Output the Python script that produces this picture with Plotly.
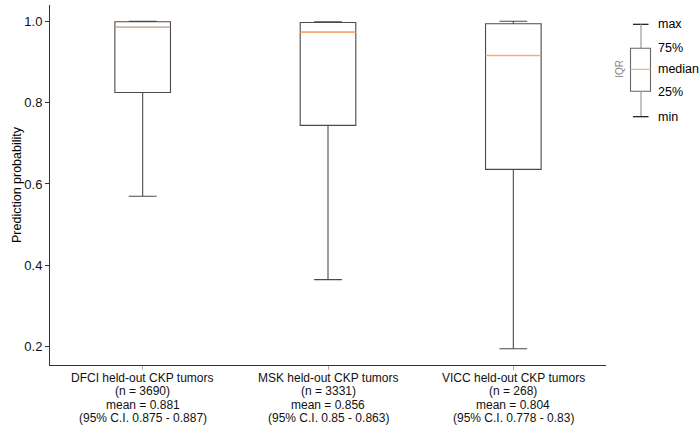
import plotly.graph_objects as go

# ---- data ----
categories = ["DFCI held-out CKP tumors", "MSK held-out CKP tumors", "VICC held-out CKP tumors"]
n_values = [3690, 3331, 268]
means = [0.881, 0.856, 0.804]
ci_low = [0.875, 0.85, 0.778]
ci_high = [0.887, 0.863, 0.83]
mins = [0.570, 0.365, 0.195]
q1s = [0.825, 0.744, 0.636]
medians = [0.985, 0.973, 0.916]
q3s = [0.999, 0.997, 0.994]
maxs = [1.000, 0.999, 1.000]
y_tick_vals = [0.2, 0.4, 0.6, 0.8, 1.0]

label_lines = [
    [c, f"(n = {n})", f"mean = {m}", f"(95% C.I. {lo} - {hi})"]
    for c, n, m, lo, hi in zip(categories, n_values, means, ci_low, ci_high)
]
xs = list(range(len(categories)))

BOX_W = 0.30
FONT = "Arial, Liberation Sans, sans-serif"
DARK = "#4a4a4a"
ORANGE = "#f6ab76"

fig = go.Figure()
fig.add_trace(go.Box(
    x=xs, q1=q1s, median=medians, q3=q3s,
    lowerfence=mins, upperfence=maxs,
    width=BOX_W, whiskerwidth=0.5,
    fillcolor="rgba(0,0,0,0)",
    line=dict(color=DARK, width=1.1),
    boxpoints=False, showlegend=False, hoverinfo="skip",
))

# orange median lines
mx, my = [], []
for x, m in zip(xs, medians):
    mx += [x - BOX_W / 2, x + BOX_W / 2, None]
    my += [m, m, None]
fig.add_trace(go.Scatter(x=mx, y=my, mode="lines",
                         line=dict(color=ORANGE, width=1.4),
                         showlegend=False, hoverinfo="skip"))

W, H = 699, 426
ML, MR, MT, MB = 50, 93, 5, 61
PW, PH = W - ML - MR, H - MT - MB

def px(x):
    return (x - ML) / PW

def py(y):
    return 1 - (y - MT) / PH

shapes = []
def seg(x0, y0, x1, y1, color, width=1.2):
    shapes.append(dict(type="line", xref="paper", yref="paper",
                       x0=px(x0), y0=py(y0), x1=px(x1), y1=py(y1),
                       line=dict(color=color, width=width)))

# legend schematic
cx = 641
seg(633, 24.3, 648.5, 24.3, "#111111")
seg(cx, 24.3, cx, 48.3, "#999999")
shapes.append(dict(type="rect", xref="paper", yref="paper",
                   x0=px(630.5), y0=py(48.3), x1=px(650.5), y1=py(91.3),
                   line=dict(color="#666666", width=1.1), fillcolor="rgba(0,0,0,0)"))
seg(630.5, 69.3, 650.5, 69.3, ORANGE, 1.2)
seg(cx, 91.3, cx, 116.7, "#999999")
seg(633, 116.7, 648.5, 116.7, "#111111")

annotations = []
for label, yy in [("max", 24), ("75%", 47.5), ("median", 69.3), ("25%", 92), ("min", 117)]:
    annotations.append(dict(text=label, xref="paper", yref="paper",
                            x=px(655.5), y=py(yy), xanchor="left", yanchor="middle",
                            showarrow=False, font=dict(family=FONT, size=12.5, color="#000000")))
annotations.append(dict(text="IQR", xref="paper", yref="paper",
                        x=px(619.5), y=py(69.3), xanchor="center", yanchor="middle",
                        textangle=-90, showarrow=False,
                        font=dict(family=FONT, size=10, color="#888888")))
annotations.append(dict(text="Prediction probability", xref="paper", yref="paper",
                        x=px(17), y=py(185), xanchor="center", yanchor="middle",
                        textangle=-90, showarrow=False,
                        font=dict(family=FONT, size=12.5, color="#000000")))

# category labels (4 lines each, tight spacing)
line_ys = [377.5, 391, 404.5, 418]
for x, lines in zip(xs, label_lines):
    for text, yy in zip(lines, line_ys):
        annotations.append(dict(text=text, xref="x", yref="paper",
                                x=x, y=py(yy), xanchor="center", yanchor="middle",
                                showarrow=False, borderpad=0,
                                font=dict(family=FONT, size=12, color="#111111")))

fig.update_layout(
    width=W, height=H,
    margin=dict(l=ML, r=MR, t=MT, b=MB, autoexpand=False),
    paper_bgcolor="white", plot_bgcolor="white",
    font=dict(family=FONT, size=12, color="#111111"),
    shapes=shapes, annotations=annotations,
    showlegend=False,
)
fig.update_xaxes(
    range=[-0.5, 2.5], tickvals=xs, showticklabels=False, automargin=False,
    showline=True, linecolor="#333333", linewidth=1,
    ticks="outside", ticklen=4, tickcolor="#aaaaaa",
    showgrid=False, zeroline=False,
)
fig.update_yaxes(
    range=[0.155, 1.040], tickvals=y_tick_vals, tickformat=".1f", automargin=False,
    showline=True, linecolor="#333333", linewidth=1,
    ticks="outside", ticklen=4, tickcolor="#333333",
    showgrid=False, zeroline=False,
    tickfont=dict(family=FONT, size=13, color="#111111"),
)

fig.write_html("out.html")
